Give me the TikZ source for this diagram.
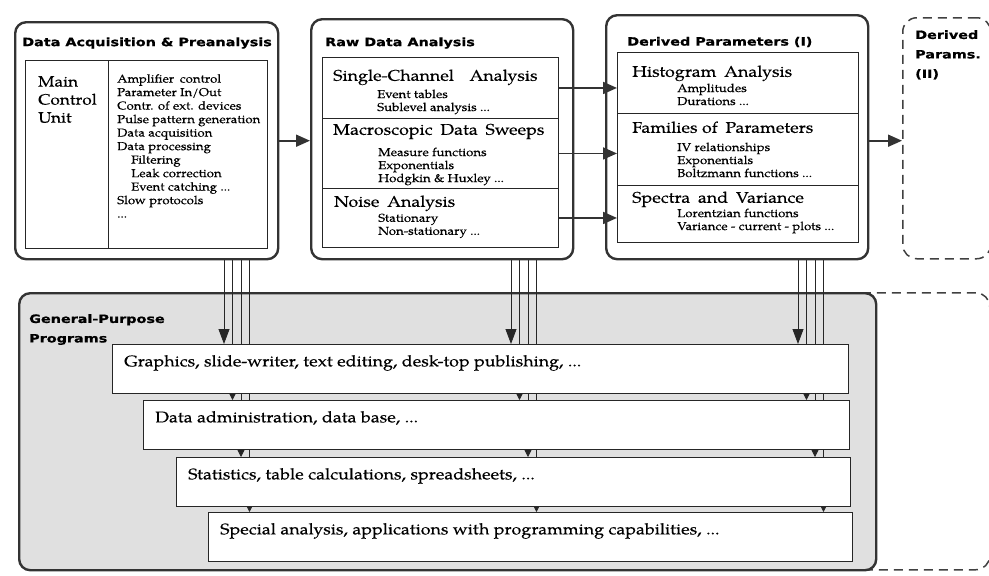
\documentclass[tikz,border=0pt]{standalone}
\usepackage{fontspec}
\setmainfont{TeX Gyre Pagella}[FakeStretch=1.15, FakeBold=0.3]
\newfontfamily\headfont{DejaVu Sans}[FakeStretch=1.25, FakeBold=0.8]
\usepackage{tikz}
\usetikzlibrary{arrows.meta,calc,positioning}
\pgfdeclarelayer{back}
\pgfdeclarelayer{wires}
\pgfsetlayers{back,wires,main}
\tikzset{%
	bigbox/.style   = {draw=black!80, line width=2.4pt, rounded corners=11pt, anchor=north west, inner sep=0pt},
	dashbox/.style  = {draw=black!75, line width=1.5pt, dash pattern=on 9pt off 6pt, rounded corners=14pt, anchor=north west, inner sep=0pt},
	sectcell/.style = {draw=black!85, line width=0.9pt, fill=white, anchor=north west, inner sep=0pt},
	boxtitle/.style = {anchor=west, align=left, inner sep=0pt, font=\headfont\bfseries\fontsize{11.5}{19.5}\selectfont},
	mcutext/.style  = {anchor=north west, align=left, inner sep=0pt, font=\fontsize{15}{18}\selectfont},
	listtext/.style = {anchor=north west, align=left, inner sep=0pt, font=\fontsize{11.5}{13.5}\selectfont},
	secthead/.style = {anchor=west, inner sep=0pt, text height=11pt, text depth=3.5pt, font=\fontsize{15.5}{16}\selectfont},
	sectsub/.style  = {align=left, inner sep=0pt, font=\fontsize{11.5}{13}\selectfont},
	progbox/.style  = {sectcell, minimum height=49pt},
	progtext/.style = {anchor=west, inner sep=0pt, font=\fontsize{15.5}{16}\selectfont},
	arrow/.style    = {draw=black!80, line width=1.8pt, -{Triangle[length=14pt,width=12pt]}},
	feed/.style     = {draw=black!85, line width=0.8pt, -{Triangle[length=7pt,width=7pt]}},
	feedbig/.style  = {draw=black!85, line width=0.8pt, -{Triangle[length=15pt,width=11pt]}},
}

\begin{document}
\begin{tikzpicture}[x=1pt,y=-1pt]
	\useasboundingbox (0,0) rectangle (989,576);
	% data acquisition
	\node[bigbox, minimum width=263, minimum height=237] (acq) at (14,21) {};
	\node[boxtitle] at ([xshift=8,yshift=-22]acq.north west) {Data Acquisition \& Preanalysis};
	\node[sectcell, minimum width=83, minimum height=188] (mcu) at (25,60) {};
	\node[sectcell, minimum width=159, minimum height=188] (ctl) at (108,60) {};
	\node[mcutext] at ([xshift=13,yshift=-16]mcu.north west) {Main\\Control\\Unit};
	\node[listtext] at ([xshift=9,yshift=-14]ctl.north west) {Amplifier\enspace control\\Parameter In/Out\\Contr. of ext. devices\\Pulse pattern generation\\Data acquisition\\Data processing\\\hspace*{14pt}Filtering\\\hspace*{14pt}Leak correction\\\hspace*{14pt}Event catching ...\\Slow protocols\\...};
	% raw data analysis
	\node[bigbox, minimum width=262, minimum height=240] (raw) at (310,18) {};
	\node[boxtitle] at ([xshift=15,yshift=-25]raw.north west) {Raw Data Analysis};
	\node[sectcell, minimum width=236, minimum height=61] (sca) at (322,57) {};
	\node[sectcell, minimum width=236, minimum height=70] (mds) at (322,118) {};
	\node[sectcell, minimum width=236, minimum height=59] (noi) at (322,188) {};
	\node[secthead] (scah) at ([xshift=11,yshift=-20]sca.north west) {Single-Channel\quad Analysis};
	\node[sectsub, below right=5pt and 44pt of scah.south west] {Event tables\\Sublevel analysis ...};
	\node[secthead] (mdsh) at ([xshift=11,yshift=-13]mds.north west) {Macroscopic\enspace Data\enspace Sweeps};
	\node[sectsub, below right=9pt and 45pt of mdsh.south west] {Measure functions\\Exponentials\\Hodgkin \& Huxley ...};
	\node[secthead] (noih) at ([xshift=12,yshift=-15]noi.north west) {Noise\enspace Analysis};
	\node[sectsub, below right=3pt and 44pt of noih.south west] {Stationary\\Non-stationary ...};
	% derived parameters
	\node[bigbox, minimum width=262, minimum height=244] (der) at (605,14) {};
	\node[boxtitle] at ([xshift=22,yshift=-28]der.north west) {Derived Parameters (I)};
	\node[sectcell, minimum width=241, minimum height=61] (hist) at (617,52) {};
	\node[sectcell, minimum width=241, minimum height=72] (fam) at (617,113) {};
	\node[sectcell, minimum width=241, minimum height=57] (spec) at (617,185) {};
	\node[secthead] (histh) at ([xshift=15,yshift=-21]hist.north west) {Histogram\enspace Analysis};
	\node[sectsub, below right=3pt and 45pt of histh.south west] {Amplitudes\\Durations ...};
	\node[secthead] (famh) at ([xshift=15,yshift=-16]fam.north west) {Families of\enspace Parameters};
	\node[sectsub, below right=6pt and 45pt of famh.south west] {IV relationships\\Exponentials\\Boltzmann functions ...};
	\node[secthead] (spech) at ([xshift=15,yshift=-14]spec.north west) {Spectra\enspace and\enspace Variance};
	\node[sectsub, below right=2pt and 45pt of spech.south west] {Lorentzian functions\\Variance - current - plots ...};
	\node[dashbox, minimum width=88, minimum height=241] (dp2) at (902,17) {};
	\node[boxtitle, anchor=north west] at ([xshift=13,yshift=-13]dp2.north west) {Derived\\Params.\\(II)};
	% flow between the boxes
	\draw[arrow] (acq.east) -- (acq.east -| raw.west);
	\draw[arrow] (sca.east) -- (sca.east -| hist.west);
	\draw[arrow] (mds.east) -- (mds.east -| fam.west);
	\draw[arrow] (noi.east) -- (noi.east -| spec.west);
	\draw[arrow] (der.east |- acq.east) -- (dp2.west |- acq.east);
	% general purpose programs
	\begin{pgfonlayer}{back}
		\node[dashbox, minimum width=140, minimum height=277] (gpx) at (849,292) {};
		\node[bigbox, fill=black!12, minimum width=857, minimum height=277] (gp) at (18,292) {};
	\end{pgfonlayer}
	\node[boxtitle, anchor=north west] at ([xshift=11,yshift=-22]gp.north west) {General-Purpose\\Programs};
	\node[progbox, minimum width=736] (r1) at (112,344) {};
	\node[progbox, minimum width=706] (r2) at (143,400) {};
	\node[progbox, minimum width=674] (r3) at (176,457) {};
	\node[progbox, minimum width=644] (r4) at (208,512) {};
	\node[progtext] at ([xshift=12,yshift=6]r1.west) {Graphics, slide-writer, text editing, desk-top publishing, ...};
	\node[progtext] at ([xshift=12,yshift=7]r2.west) {Data administration, data base, ...};
	\node[progtext] at ([xshift=12,yshift=6]r3.west) {Statistics, table calculations, spreadsheets, ...};
	\node[progtext] at ([xshift=12,yshift=6]r4.west) {Special analysis, applications with programming capabilities, ...};
	% bundles down to the programs
	\begin{pgfonlayer}{wires}
		\foreach \b/\x in {acq/224, raw/511, der/798}
			\foreach \n/\s in {1/feedbig, 2/feed, 3/feed, 4/feed} {
				\coordinate (wx) at ({\x+(\n-1)*8.5},0);
				\draw[\s] (wx |- \b.south) -- (wx |- r\n.north);
			}
	\end{pgfonlayer}
\end{tikzpicture}
\end{document}
